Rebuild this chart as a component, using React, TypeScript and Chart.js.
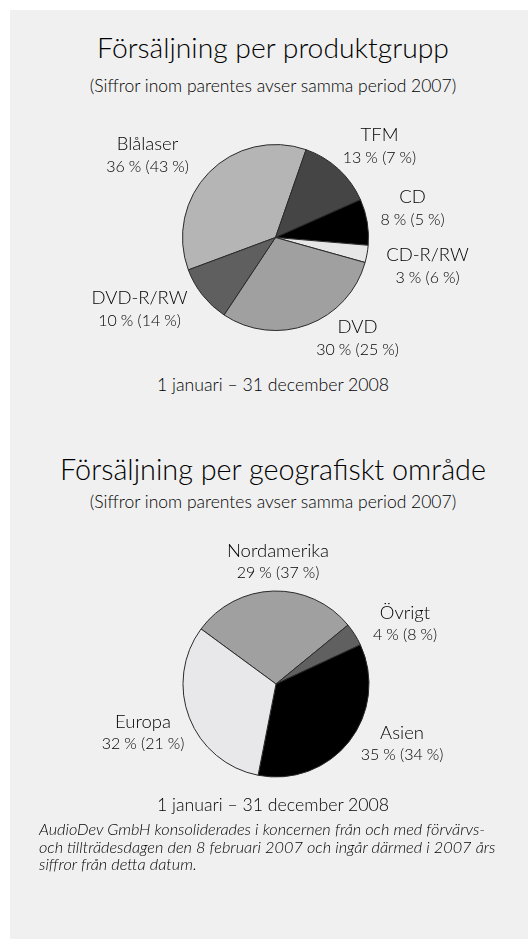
import React, { useEffect, useRef } from "react";
import { Chart, registerables } from "chart.js";

Chart.register(...registerables);

// ---------- data ----------
const productLabels = ["Blålaser", "TFM", "CD", "CD-R/RW", "DVD", "DVD-R/RW"];
const product2008 = [36, 13, 8, 3, 30, 10];
const product2007 = [43, 7, 5, 6, 25, 14];
const productColors = ["#b5b5b5", "#454545", "#000000", "#e6e6e6", "#a0a0a0", "#5f5f5f"];

const regionLabels = ["Nordamerika", "Övrigt", "Asien", "Europa"];
const region2008 = [29, 4, 35, 32];
const region2007 = [37, 8, 34, 21];
const regionColors = ["#a0a0a0", "#606060", "#000000", "#e8e8ea"];

const title1 = "Försäljning per produktgrupp";
const title2 = "Försäljning per geografiskt område";
const subtitle = "(Siffror inom parentes avser samma period 2007)";
const period = "1 januari – 31 december 2008";
const footnote = [
  "AudioDev GmbH konsoliderades i koncernen från och med förvärvs-",
  "och tillträdesdagen den 8 februari 2007 och ingår därmed i 2007 års",
  "siffror från detta datum.",
];

// ---------- layout (label anchors relative to pie centre) ----------
const productLabelOffsets = [
  [-128, -93],
  [104, -102],
  [137, -40],
  [152, 18],
  [82, 90],
  [-136, 61],
];
const regionLabelOffsets = [
  [2, -133],
  [129, -71],
  [126, 49],
  [-133, 38],
];

const FONT = "Lato, 'Open Sans', sans-serif";
const WEIGHT = 300;
const INK = "#000";
const pct = (v: number) => `${v}\u202F%`;

function makeLabelPlugin(labels: string[], cur: number[], prev: number[], offsets: number[][]) {
  return {
    id: "sliceLabels",
    afterDraw(chart: any) {
      const arc = chart.getDatasetMeta(0).data[0];
      if (!arc) return;
      const cx = arc.x;
      const cy = arc.y;
      const ctx = chart.ctx;
      ctx.save();
      ctx.fillStyle = INK;
      ctx.textAlign = "center";
      ctx.textBaseline = "middle";
      labels.forEach((l, i) => {
        const [dx, dy] = offsets[i];
        ctx.font = `${WEIGHT} 18.5px ${FONT}`;
        ctx.fillText(l, cx + dx, cy + dy);
        ctx.font = `${WEIGHT} 16px ${FONT}`;
        ctx.fillText(`${pct(cur[i])} (${pct(prev[i])})`, cx + dx, cy + dy + 22);
      });
      ctx.restore();
    },
  };
}

function PieCanvas(props: {
  labels: string[];
  cur: number[];
  prev: number[];
  colors: string[];
  offsets: number[][];
  rotation: number;
  top: number;
  height: number;
  padding: { left: number; right: number; top: number; bottom: number };
}) {
  const ref = useRef<HTMLCanvasElement | null>(null);
  useEffect(() => {
    if (!ref.current) return;
    const chart = new Chart(ref.current, {
      type: "pie",
      data: {
        labels: props.labels,
        datasets: [
          {
            data: props.cur,
            backgroundColor: props.colors,
            borderColor: "#2a2a2a",
            borderWidth: 1,
          },
        ],
      },
      options: {
        responsive: false,
        animation: false,
        devicePixelRatio: 1,
        rotation: props.rotation,
        layout: { padding: props.padding },
        plugins: {
          legend: { display: false },
          tooltip: { enabled: false },
          title: { display: false },
        },
      },
      plugins: [makeLabelPlugin(props.labels, props.cur, props.prev, props.offsets)],
    } as any);
    return () => chart.destroy();
  }, []);
  return (
    <canvas
      ref={ref}
      width={528}
      height={props.height}
      style={{ position: "absolute", left: 0, top: props.top, width: 528, height: props.height }}
    />
  );
}

function CenterText(props: { y: number; size: number; text: string; lh?: number }) {
  const lh = props.lh ?? props.size * 1.3;
  return (
    <div
      style={{
        position: "absolute",
        left: 23,
        width: 500,
        top: props.y - lh / 2,
        height: lh,
        lineHeight: `${lh}px`,
        textAlign: "center",
        fontFamily: FONT,
        fontWeight: WEIGHT,
        fontSize: props.size,
        color: INK,
        whiteSpace: "nowrap",
      }}
    >
      {props.text}
    </div>
  );
}

export default function App() {
  return (
    <div style={{ position: "absolute", left: 0, top: 0, width: 528, height: 939, background: "#ffffff", overflow: "hidden" }}>
      <div style={{ position: "absolute", left: 10, top: 10, width: 518, height: 929, background: "#f0f0f0" }} />
      <CenterText y={47} size={28.3} text={title1} />
      <CenterText y={86} size={17.5} text={subtitle} />
      <PieCanvas
        labels={productLabels}
        cur={product2008}
        prev={product2007}
        colors={productColors}
        offsets={productLabelOffsets}
        rotation={-110.4}
        top={110}
        height={260}
        padding={{ left: 182, right: 159, top: 34, bottom: 39 }}
      />
      <CenterText y={385} size={17.7} text={period} />
      <CenterText y={470} size={28.8} text={title2} />
      <CenterText y={502} size={17.5} text={subtitle} />
      <PieCanvas
        labels={regionLabels}
        cur={region2008}
        prev={region2007}
        colors={regionColors}
        offsets={regionLabelOffsets}
        rotation={-53.7}
        top={520}
        height={280}
        padding={{ left: 182.5, right: 158.5, top: 70.5, bottom: 22.5 }}
      />
      <CenterText y={805} size={17.7} text={period} />
      <div
        style={{
          position: "absolute",
          left: 39,
          top: 820,
          width: 480,
          fontFamily: FONT,
          fontWeight: WEIGHT,
          fontStyle: "italic",
          fontSize: 16.3,
          lineHeight: "17.5px",
          color: INK,
          whiteSpace: "nowrap",
        }}
      >
        {footnote.map((l, i) => (
          <div key={i}>{l}</div>
        ))}
      </div>
    </div>
  );
}
